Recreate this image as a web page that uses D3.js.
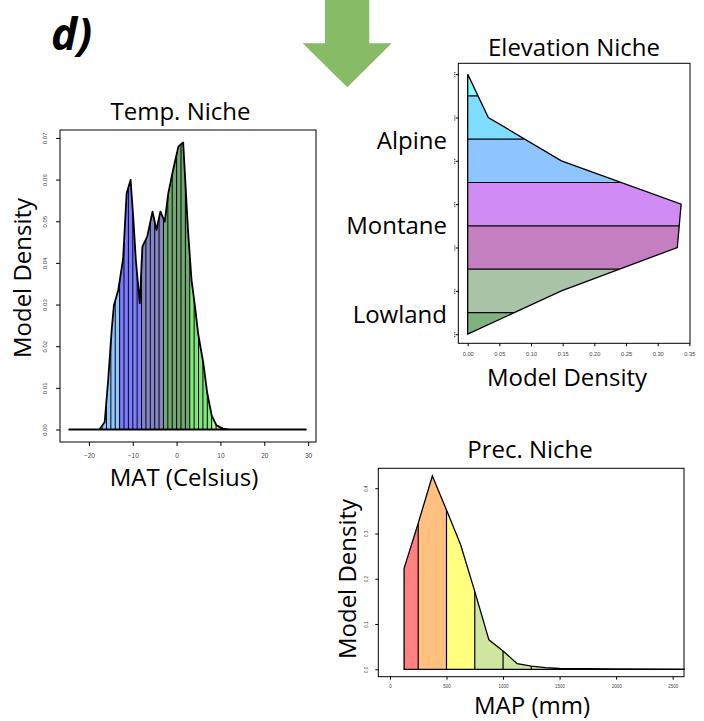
<!doctype html>
<html lang="en">
<head>
<meta charset="utf-8">
<title>Niche plots</title>
<script src="https://d3js.org/d3.v7.min.js"></script>
<style>
  body { margin: 0; background: #fff; }
  .lab { font-family: "Open Sans", sans-serif; font-size: 24px; fill: #000; }
  .tick text { font-family: "Liberation Sans", Arial, sans-serif; fill: #444; }
  .tick line { stroke: #000; }
</style>
</head>
<body>
<div id="chart"></div>
<script>

// ---- temperature niche (MAT, Celsius) ----
const tempX = [-24.5, -17.6, -16.4, -15.6, -14.8, -14.3, -13.3, -12.2, -11.4, -10.5, -9.9, -9.3, -8.4, -7.8, -6.7, -5.5, -4.6, -3.7, -2.7, -1.9, -0.8, 0.4, 1.0, 1.5, 2.6, 3.4, 4.2, 4.9, 6.1, 7.0, 8.0, 9.1, 10.6, 12, 29.5];
const tempY = [0, 0, 0.0018, 0.012, 0.024, 0.0298, 0.0335, 0.041, 0.0567, 0.0599, 0.0511, 0.0407, 0.0303, 0.0439, 0.0463, 0.0523, 0.0479, 0.0523, 0.0499, 0.0567, 0.0623, 0.0679, 0.0685, 0.0689, 0.0479, 0.0359, 0.0295, 0.0231, 0.0159, 0.0087, 0.0034, 0.0010, 0.0002, 0, 0];
const tempBreaks = [-17, -16, -15, -14, -13, -12, -11, -10, -9, -8, -7, -6, -5, -4, -3, -2, -1, 0, 1, 2, 3, 4, 5, 6, 7, 8, 9, 10, 11];
const tempColorCuts = [-13, -8, -3, 3, 8];
const tempColors = ["#8ec8ff", "#7b7bff", "#8484c8", "#73a873", "#80e87a", "#d4e8a0"];
const tempTicksX = [-20, -10, 0, 10, 20, 30];
const tempTicksY = [0, 0.01, 0.02, 0.03, 0.04, 0.05, 0.06, 0.07];

// ---- elevation niche ----
const elevLevels = [0, 1, 2, 3, 4, 5, 6];
const elevDensity = [0, 0.148, 0.331, 0.337, 0.148, 0.0326, 0];
const elevBreaks = [0, 0.5, 1.5, 2.5, 3.5, 4.5, 5.5, 6];
const elevColors = ["#7fb27f", "#a9c4a9", "#c47fc0", "#d08cf4", "#8ec5fe", "#80ddff", "#80ffff"];
const elevZones = ["Lowland", "Montane", "Alpine"];
const elevZoneLevels = [0.45, 2.5, 4.45];
const elevTicksX = [0, 0.05, 0.10, 0.15, 0.20, 0.25, 0.30, 0.35];

// ---- precipitation niche (MAP, mm) ----
const precX = [125, 250, 375, 500, 625, 750, 875, 1000, 1125, 1250, 1375, 1500, 1750, 2000, 2600];
const precY = [0.223, 0.3227, 0.427, 0.352, 0.275, 0.172, 0.065, 0.0405, 0.0125, 0.0068, 0.0035, 0.0022, 0.0012, 0.0008, 0.0004];
const precBreaks = [125, 250, 500, 750, 1000, 1250, 2600];
const precColors = ["#ff8080", "#ffc080", "#ffff80", "#cfe6a0", "#cfe6a0", "#d8ecb4"];
const precTicksX = [0, 500, 1000, 1500, 2000, 2500];
const precTicksY = [0, 0.1, 0.2, 0.3, 0.4];

const svg = d3.select("#chart")
  .append("svg")
    .attr("width", 704)
    .attr("height", 721);

// panel label and arrow
svg.append("text")
  .attr("x", 51).attr("y", 50)
  .style("font-family", "'Open Sans', sans-serif")
  .style("font-size", "44px")
  .style("font-weight", "bold")
  .style("font-style", "italic")
  .text("d)");

svg.append("polygon")
  .attr("points", "325,0 369.3,0 369.3,43.3 391.7,43.3 347.3,87.3 302.7,43.3 325,43.3")
  .attr("fill", "#88bb66");

// rotate y tick labels like R's default (parallel to axis)
function rotateLabels(g, off) {
  g.selectAll(".tick text")
    .attr("transform", "rotate(-90)")
    .attr("x", 0)
    .attr("y", -off)
    .attr("dy", 0)
    .style("text-anchor", "middle");
}

// ================= Temp. Niche =================
{
  const box = {left: 60, right: 316, top: 130, bottom: 442};
  const x = d3.scaleLinear().domain([-26.6, 31.8]).range([box.left, box.right]);
  const y = d3.scaleLinear().domain([-0.003, 0.0719]).range([box.bottom, box.top]);
  const color = d3.scaleThreshold().domain(tempColorCuts).range(tempColors);
  const pts = tempX.map((d, i) => [d, tempY[i]]);

  const area = d3.area()
    .x(d => x(d[0]))
    .y0(y(0))
    .y1(d => y(d[1]));

  svg.append("clipPath").attr("id", "temp-clip")
    .append("path").attr("d", area(pts));

  const g = svg.append("g").attr("clip-path", "url(#temp-clip)");
  g.selectAll("rect")
    .data(tempBreaks.slice(0, -1))
    .enter()
    .append("rect")
      .attr("x", (d) => x(d))
      .attr("width", (d, i) => x(tempBreaks[i + 1]) - x(d))
      .attr("y", box.top)
      .attr("height", y(0) - box.top)
      .attr("fill", (d) => color(d));
  g.selectAll("line")
    .data(tempBreaks)
    .enter()
    .append("line")
      .attr("x1", d => x(d)).attr("x2", d => x(d))
      .attr("y1", box.top).attr("y2", y(0))
      .attr("stroke", "#000").attr("stroke-width", 1);

  svg.append("path")
    .attr("d", area(pts))
    .attr("fill", "none")
    .attr("stroke", "#000")
    .attr("stroke-width", 1.8)
    .attr("stroke-linejoin", "round");

  svg.append("rect")
    .attr("x", box.left).attr("y", box.top)
    .attr("width", box.right - box.left).attr("height", box.bottom - box.top)
    .attr("fill", "none").attr("stroke", "#000");

  const ax = svg.append("g")
    .attr("transform", `translate(0,${box.bottom})`)
    .call(d3.axisBottom(x).tickValues(tempTicksX).tickSize(4).tickPadding(7).tickSizeOuter(0));
  ax.select(".domain").remove();
  ax.selectAll(".tick text").style("font-size", "6.5px");

  const ay = svg.append("g")
    .attr("transform", `translate(${box.left},0)`)
    .call(d3.axisLeft(y).tickValues(tempTicksY).tickFormat(d3.format(".2f")).tickSize(4).tickSizeOuter(0));
  ay.select(".domain").remove();
  ay.selectAll(".tick text").style("font-size", "6px");
  rotateLabels(ay, 13);

  svg.append("text").attr("class", "lab")
    .attr("x", 180.5).attr("y", 120)
    .attr("text-anchor", "middle")
    .text("Temp. Niche");
  svg.append("text").attr("class", "lab")
    .attr("x", 184).attr("y", 486)
    .attr("text-anchor", "middle")
    .text("MAT (Celsius)");
  svg.append("text").attr("class", "lab")
    .attr("transform", "translate(31,278) rotate(-90)")
    .attr("text-anchor", "middle")
    .text("Model Density");
}

// ================= Elevation Niche =================
{
  const box = {left: 458.3, right: 690, top: 63.3, bottom: 343.3};
  const x = d3.scaleLinear().domain([-0.0148, 0.351]).range([box.left, box.right]);
  const y = d3.scaleLinear().domain([-0.21, 6.25]).range([box.bottom, box.top]);
  const pts = elevLevels.map((d, i) => [d, elevDensity[i]]);

  const area = d3.area()
    .y(d => y(d[0]))
    .x0(x(0))
    .x1(d => x(d[1]));

  svg.append("clipPath").attr("id", "elev-clip")
    .append("path").attr("d", area(pts));

  const g = svg.append("g").attr("clip-path", "url(#elev-clip)");
  g.selectAll("rect")
    .data(elevBreaks.slice(0, -1))
    .enter()
    .append("rect")
      .attr("x", x(0))
      .attr("width", box.right - x(0))
      .attr("y", (d, i) => y(elevBreaks[i + 1]))
      .attr("height", (d, i) => y(d) - y(elevBreaks[i + 1]))
      .attr("fill", (d, i) => elevColors[i]);
  g.selectAll("line")
    .data(elevBreaks.slice(1, -1))
    .enter()
    .append("line")
      .attr("x1", x(0)).attr("x2", box.right)
      .attr("y1", d => y(d)).attr("y2", d => y(d))
      .attr("stroke", "#000").attr("stroke-width", 1.2);

  svg.append("path")
    .attr("d", area(pts))
    .attr("fill", "none")
    .attr("stroke", "#000")
    .attr("stroke-width", 1.3);

  svg.append("rect")
    .attr("x", box.left).attr("y", box.top)
    .attr("width", box.right - box.left).attr("height", box.bottom - box.top)
    .attr("fill", "none").attr("stroke", "#000");

  const ax = svg.append("g")
    .attr("transform", `translate(0,${box.bottom})`)
    .call(d3.axisBottom(x).tickValues(elevTicksX).tickFormat(d3.format(".2f")).tickSize(3).tickPadding(6).tickSizeOuter(0));
  ax.select(".domain").remove();
  ax.selectAll(".tick text").style("font-size", "5.7px");

  // tiny unreadable level labels on the left axis
  const ay = svg.append("g")
    .attr("transform", `translate(${box.left},0)`)
    .call(d3.axisLeft(y).tickValues(elevLevels).tickFormat("").tickSize(2.5).tickSizeOuter(0));
  ay.select(".domain").remove();
  ay.selectAll(".tick").append("line")
    .attr("x1", -3.5).attr("x2", -3.5)
    .attr("y1", -2.5).attr("y2", 2.5)
    .attr("stroke", "#999")
    .attr("stroke-dasharray", "1 1");

  svg.append("text").attr("class", "lab")
    .attr("x", 574).attr("y", 56)
    .attr("text-anchor", "middle")
    .text("Elevation Niche");
  svg.append("text").attr("class", "lab")
    .attr("x", 567).attr("y", 386)
    .attr("text-anchor", "middle")
    .text("Model Density");
  svg.selectAll(".zone")
    .data(elevZones)
    .enter()
    .append("text")
      .attr("class", "lab zone")
      .attr("x", 447)
      .attr("y", (d, i) => y(elevZoneLevels[i]) + 8)
      .attr("text-anchor", "end")
      .text(d => d);
}

// ================= Prec. Niche =================
{
  const box = {left: 378.3, right: 684, top: 468.3, bottom: 676.7};
  const x = d3.scaleLinear().domain([-103, 2600]).range([box.left, box.right]);
  const y = d3.scaleLinear().domain([-0.0164, 0.444]).range([box.bottom, box.top]);
  const pts = precX.map((d, i) => [d, precY[i]]);

  const area = d3.area()
    .x(d => x(d[0]))
    .y0(y(0))
    .y1(d => y(d[1]));

  svg.append("clipPath").attr("id", "prec-clip")
    .append("path").attr("d", area(pts));

  const g = svg.append("g").attr("clip-path", "url(#prec-clip)");
  g.selectAll("rect")
    .data(precBreaks.slice(0, -1))
    .enter()
    .append("rect")
      .attr("x", (d) => x(d))
      .attr("width", (d, i) => x(precBreaks[i + 1]) - x(d))
      .attr("y", box.top)
      .attr("height", y(0) - box.top)
      .attr("fill", (d, i) => precColors[i]);
  g.selectAll("line")
    .data(precBreaks.slice(1, -1))
    .enter()
    .append("line")
      .attr("x1", d => x(d)).attr("x2", d => x(d))
      .attr("y1", box.top).attr("y2", y(0))
      .attr("stroke", "#000").attr("stroke-width", 1.2);

  svg.append("path")
    .attr("d", area(pts))
    .attr("fill", "none")
    .attr("stroke", "#000")
    .attr("stroke-width", 1.3);

  svg.append("rect")
    .attr("x", box.left).attr("y", box.top)
    .attr("width", box.right - box.left).attr("height", box.bottom - box.top)
    .attr("fill", "none").attr("stroke", "#000");

  const ax = svg.append("g")
    .attr("transform", `translate(0,${box.bottom})`)
    .call(d3.axisBottom(x).tickValues(precTicksX).tickFormat(d3.format("d")).tickSize(3).tickPadding(5).tickSizeOuter(0));
  ax.select(".domain").remove();
  ax.selectAll(".tick text").style("font-size", "4.5px");

  const ay = svg.append("g")
    .attr("transform", `translate(${box.left},0)`)
    .call(d3.axisLeft(y).tickValues(precTicksY).tickFormat(d3.format(".1f")).tickSize(3).tickSizeOuter(0));
  ay.select(".domain").remove();
  ay.selectAll(".tick text").style("font-size", "4.5px");
  rotateLabels(ay, 10);

  svg.append("text").attr("class", "lab")
    .attr("x", 530).attr("y", 458)
    .attr("text-anchor", "middle")
    .text("Prec. Niche");
  svg.append("text").attr("class", "lab")
    .attr("x", 532).attr("y", 714)
    .attr("text-anchor", "middle")
    .text("MAP (mm)");
  svg.append("text").attr("class", "lab")
    .attr("transform", "translate(356,579) rotate(-90)")
    .attr("text-anchor", "middle")
    .text("Model Density");
}

</script>
</body>
</html>
